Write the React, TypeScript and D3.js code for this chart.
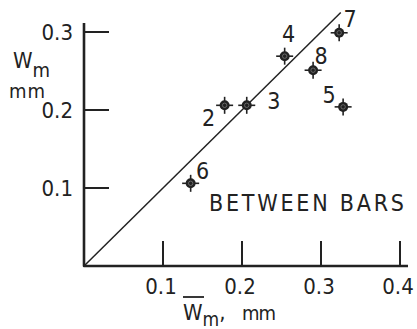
import React, { useEffect, useRef } from 'react';
import * as d3 from 'd3';

// measured points, W_m (between bars) vs mean W_m
const labels = ['2', '3', '4', '5', '6', '7', '8'];
const wMean = [0.178, 0.206, 0.254, 0.328, 0.135, 0.323, 0.29];
const wMax = [0.206, 0.206, 0.269, 0.204, 0.106, 0.299, 0.251];

const xTicks = [0.1, 0.2, 0.3, 0.4];
const yTicks = [0.1, 0.2, 0.3];
const lineEnd = 0.325; // y = x reference line

// where each number sits relative to its point
const labelOffset: { [k: string]: [number, number] } = {
  '2': [-16, 21],
  '3': [27, 4],
  '4': [4, -14],
  '5': [-14, -4],
  '6': [12, -4],
  '7': [11, -6],
  '8': [8, -6],
};

const ink = '#222';
const font = '"DejaVu Sans Condensed", "DejaVu Sans", sans-serif';

export default function App() {
  const ref = useRef<SVGSVGElement>(null);

  useEffect(() => {
    const svg = d3.select(ref.current).html('');
    const x = d3.scaleLinear().domain([0, 0.4]).range([84, 400]);
    const y = d3.scaleLinear().domain([0, 0.3]).range([266, 32]);

    // axes
    svg.append('path')
      .attr('d', 'M' + x(0) + ',23 L' + x(0) + ',' + y(0) + ' L408,' + y(0))
      .attr('fill', 'none').attr('stroke', ink).attr('stroke-width', 2.6)
      .attr('stroke-linejoin', 'round');

    svg.append('g').selectAll('line').data(xTicks).join('line')
      .attr('x1', d => x(d)).attr('x2', d => x(d))
      .attr('y1', y(0)).attr('y2', y(0) - 25)
      .attr('stroke', ink).attr('stroke-width', 2);

    svg.append('g').selectAll('text').data(xTicks).join('text')
      .attr('x', d => x(d) - 2).attr('y', 294)
      .attr('text-anchor', 'middle')
      .style('font-family', font).style('font-size', '22px').attr('fill', ink)
      .text(d => String(d));

    svg.append('g').selectAll('line').data(yTicks).join('line')
      .attr('x1', x(0)).attr('x2', x(0) + 25)
      .attr('y1', d => y(d)).attr('y2', d => y(d))
      .attr('stroke', ink).attr('stroke-width', 2);

    svg.append('g').selectAll('text').data(yTicks).join('text')
      .attr('x', 73).attr('y', d => y(d) + 8)
      .attr('text-anchor', 'end')
      .style('font-family', font).style('font-size', '22px').attr('fill', ink)
      .text(d => String(d));

    // y = x line
    svg.append('line')
      .attr('x1', x(0)).attr('y1', y(0))
      .attr('x2', x(lineEnd)).attr('y2', y(lineEnd))
      .attr('stroke', ink).attr('stroke-width', 1.5);

    // points
    const pts = svg.append('g').selectAll('g').data(labels).join('g')
      .attr('transform', (d, i) => 'translate(' + x(wMean[i]) + ',' + y(wMax[i]) + ')');
    pts.append('line').attr('x1', -8.5).attr('x2', 8.5).attr('stroke', ink).attr('stroke-width', 1.6);
    pts.append('line').attr('y1', -8.5).attr('y2', 8.5).attr('stroke', ink).attr('stroke-width', 1.6);
    pts.append('circle').attr('r', 5).attr('fill', ink);
    pts.append('circle').attr('r', 2.2).attr('fill', 'none').attr('stroke', '#777').attr('stroke-width', 0.8);

    svg.append('g').selectAll('text').data(labels).join('text')
      .attr('x', (d, i) => x(wMean[i]) + labelOffset[d][0])
      .attr('y', (d, i) => y(wMax[i]) + labelOffset[d][1])
      .attr('text-anchor', 'middle')
      .style('font-family', font).style('font-size', '23px').attr('fill', ink)
      .text(d => d);

    svg.append('text')
      .attr('x', 209).attr('y', 211)
      .attr('textLength', 195).attr('lengthAdjust', 'spacing')
      .style('font-family', font).style('font-size', '23px').attr('fill', ink)
      .text('BETWEEN BARS');

    // y title
    const yt = svg.append('text').style('font-family', font).attr('fill', ink);
    yt.append('tspan').attr('x', 13).attr('y', 68).style('font-size', '22px').text('W');
    yt.append('tspan').attr('dy', 9).style('font-size', '20px').text('m');
    svg.append('text')
      .attr('x', 9).attr('y', 98)
      .attr('textLength', 36).attr('lengthAdjust', 'spacing')
      .style('font-family', font).style('font-size', '20px').attr('fill', ink)
      .text('mm');

    // x title
    const xt = svg.append('text').style('font-family', font).attr('fill', ink);
    xt.append('tspan').attr('x', 183).attr('y', 320).style('font-size', '22px').text('W');
    xt.append('tspan').attr('dy', 6).style('font-size', '19px').text('m');
    xt.append('tspan').attr('dy', -6).style('font-size', '22px').text(',');
    svg.append('line')
      .attr('x1', 183).attr('x2', 204).attr('y1', 297).attr('y2', 297)
      .attr('stroke', ink).attr('stroke-width', 1.8);
    svg.append('text')
      .attr('x', 242).attr('y', 320)
      .attr('textLength', 34).attr('lengthAdjust', 'spacing')
      .style('font-family', font).style('font-size', '20px').attr('fill', ink)
      .text('mm');
  }, []);

  return (
    <svg ref={ref} width={417} height={329}
      style={{ position: 'absolute', left: 0, top: 0, background: '#fff' }} />
  );
}
